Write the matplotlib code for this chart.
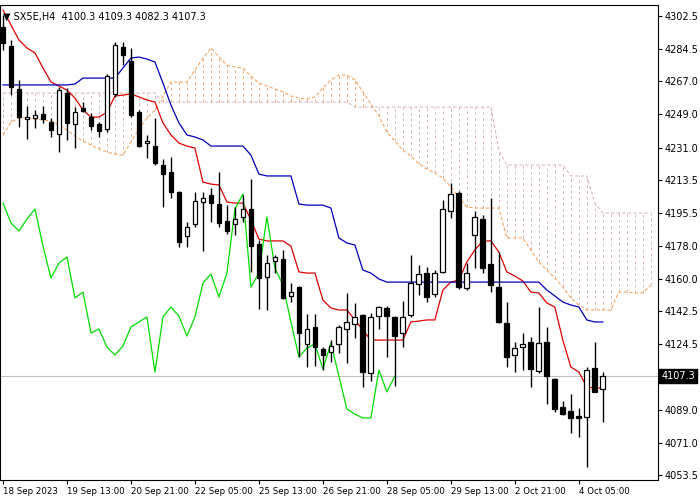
import matplotlib
matplotlib.use("Agg")
import matplotlib.pyplot as plt
import numpy as np

opens  = [4296.4,4286.1,4262.8,4246.5,4247.1,4249.2,4244.9,4238.4,4260.6,4243.8,
          4252.5,4247.6,4243.8,4241.1,4260.1,4285.5,4278.0,4250.3,4233.5,4231.9,
          4221.6,4217.8,4207.0,4183.2,4189.7,4201.6,4205.4,4200.5,4191.3,4189.7,
          4193.5,4197.8,4178.8,4160.9,4169.6,4170.7,4150.7,4155.5,4124.7,4133.9,
          4121.9,4120.3,4124.7,4132.8,4135.5,4140.4,4109.0,4139.8,4144.2,4139.3,
          4130.6,4140.4,4157.2,4163.1,4151.7,4163.7,4196.7,4206.5,4155.0,4183.7,
          4192.4,4168.0,4155.5,4136.0,4118.7,4123.0,4125.7,4110.0,4125.7,4105.7,
          4090.5,4088.4,4085.7,4085.1,4111.7,4100.3]
highs  = [4302.9,4289.3,4267.7,4253.6,4251.4,4253.6,4247.1,4263.9,4263.3,4253.0,
          4255.7,4249.8,4244.9,4270.9,4288.2,4288.2,4285.0,4251.4,4237.9,4247.1,
          4224.9,4226.0,4207.5,4190.7,4207.0,4207.0,4209.2,4217.8,4200.0,4198.9,
          4205.4,4214.0,4181.0,4172.9,4172.9,4175.6,4157.7,4156.0,4140.9,4140.9,
          4123.0,4126.8,4134.9,4152.3,4146.9,4140.9,4141.4,4145.2,4145.2,4139.8,
          4147.9,4172.9,4167.4,4166.4,4164.7,4202.7,4211.9,4207.5,4168.5,4196.7,
          4194.5,4203.7,4174.5,4147.4,4125.7,4130.6,4128.5,4144.7,4133.9,4106.0,
          4093.8,4097.6,4089.9,4112.2,4125.7,4109.3]
lows   = [4283.9,4259.5,4242.2,4235.7,4241.7,4244.4,4236.8,4228.7,4235.2,4230.8,
          4250.3,4240.6,4236.8,4239.5,4258.5,4275.8,4247.6,4231.4,4225.4,4221.6,
          4198.9,4203.7,4177.2,4177.2,4188.0,4175.0,4190.7,4188.0,4184.2,4183.7,
          4190.7,4163.7,4143.6,4143.1,4163.1,4149.0,4147.4,4117.6,4112.2,4112.7,
          4110.6,4114.9,4119.8,4114.4,4127.9,4101.4,4104.6,4132.8,4117.6,4101.9,
          4123.0,4139.3,4151.2,4147.4,4150.1,4163.1,4192.9,4154.5,4153.9,4165.8,
          4163.1,4152.8,4136.0,4112.2,4109.5,4110.6,4101.4,4109.0,4092.2,4087.8,
          4086.2,4076.4,4074.3,4058.0,4098.5,4082.3]
closes = [4287.7,4263.9,4247.6,4247.6,4248.7,4246.5,4240.6,4262.2,4244.4,4250.3,
          4250.9,4242.7,4240.0,4269.8,4286.6,4281.2,4248.7,4231.9,4234.6,4222.7,
          4216.7,4207.0,4179.9,4188.0,4202.1,4203.7,4201.0,4190.2,4185.9,4192.4,
          4197.8,4177.7,4160.4,4168.5,4171.8,4149.6,4152.8,4130.6,4132.8,4123.0,
          4118.7,4123.6,4133.9,4136.6,4139.3,4109.5,4139.3,4144.7,4139.8,4129.0,
          4139.3,4157.7,4162.6,4150.1,4163.1,4197.8,4205.9,4155.5,4163.1,4193.5,
          4165.8,4156.6,4136.6,4117.6,4122.5,4124.7,4111.1,4125.2,4107.3,4089.4,
          4086.7,4084.6,4084.6,4110.6,4098.7,4107.3]

tenkan = [4305.6,4297.5,4289.3,4285.0,4282.3,4274.2,4266.6,4264.4,4262.2,4257.9,
          4251.4,4247.6,4247.6,4250.3,4259.0,4259.5,4260.1,4258.5,4256.8,4255.7,
          4244.4,4237.9,4233.5,4231.9,4230.8,4212.4,4211.3,4210.8,4201.6,4201.0,
          4201.0,4191.8,4181.5,4180.5,4180.5,4180.5,4177.7,4163.7,4163.1,4163.1,
          4148.5,4144.2,4143.1,4143.1,4137.7,4132.2,4126.8,4126.8,4126.8,4126.8,
          4126.8,4136.6,4137.1,4137.7,4137.7,4153.9,4158.2,4159.3,4169.1,4175.6,
          4180.5,4180.5,4174.5,4163.7,4161.5,4158.8,4152.8,4152.3,4146.9,4144.7,
          4126.8,4112.2,4109.5,4101.4,4100.8,4100.8]
kijun = [4265.0]*9 + [4265.5,4268.7,4268.7,4268.7,4268.7,4268.7,4274.2,4279.6,4280.1,
         4279.0,4277.4,4266.0,4254.1,4244.4,4237.9,4236.8,4235.2,4231.9,4231.9,
         4231.9,4231.9,4231.9,4227.0,4216.7,4215.7,4215.7,4215.7,4215.7,4200.5,
         4199.9,4199.9,4199.9,4198.3,4182.1,4179.4,4178.3,4164.7,4163.1,4159.9] + \
        [4158.2]*20 + [4153.9,4150.7,4147.4,4145.8,4144.7,4137.7,4136.6,4136.6]

span_a = [4237.9,4244.9,4247.1,4247.1,4246.5,4246.0,4245.5,4243.3,4240.6,4237.3,
          4234.6,4232.5,4230.3,4228.7,4227.6,4227.0,4234.1,4241.1,4247.1,4251.4,
          4259.0,4266.6,4266.6,4266.6,4273.1,4279.6,4285.0,4280.1,4275.8,4274.7,
          4274.2,4269.8,4266.0,4264.4,4262.8,4261.2,4259.0,4257.9,4257.4,4258.5,
          4263.3,4267.7,4270.4,4270.4,4267.7,4261.2,4254.7,4248.2,4239.5,4234.6,
          4229.7,4226.5,4222.2,4219.5,4217.3,4214.6,4209.7,4204.3,4198.9,4198.3,
          4198.3,4198.3,4198.3,4182.1,4182.1,4182.1,4175.6,4169.1,4164.7,4160.4,
          4155.5,4149.6,4145.8,4143.1,4143.1,4143.1,4143.1,4152.8,4152.8,4152.3,
          4152.3,4156.6]
span_b = [4260.6]*20 + [4255.7]*24 + [4253.0]*18 + [4229.7] + [4221.6]*8 + \
         [4215.7]*3 + [4201.0] + [4195.6]*7

xlabels = ["18 Sep 2023","19 Sep 13:00","20 Sep 21:00","22 Sep 05:00","25 Sep 13:00",
           "26 Sep 21:00","28 Sep 05:00","29 Sep 13:00","2 Oct 21:00","4 Oct 05:00"]
yticks = [4302.5,4284.5,4267.0,4249.0,4231.0,4213.5,4195.5,4178.0,4160.0,4142.5,
          4124.5,4089.0,4071.0,4053.5]
last_price = 4107.3

fig = plt.figure(figsize=(7,5), dpi=100)
ax = fig.add_axes([0.0, 0.04, 0.94, 0.95])
ax.set_xlim(-0.375, 81.9)
ax.set_ylim(4051.0, 4308.3)

ci = np.arange(len(span_a))
sa = np.array(span_a); sb = np.array(span_b)
for i in ci:
    col = "#eeaa7a" if sa[i] >= sb[i] else "#d4b8b8"
    ax.vlines(i, min(sa[i], sb[i]), max(sa[i], sb[i]), colors=col,
              linestyles=(0,(3,3)), linewidth=0.7)
ax.plot(ci, sa, color="#f4a460", linestyle=(0,(3,2)), linewidth=0.8)
ax.plot(ci, sb, color="#d8b8c0", linestyle=(0,(3,2)), linewidth=0.8)

ax.axhline(last_price, color="#c0c0c0", linewidth=0.8)

n = len(closes)
idx = np.arange(n)
ax.plot(idx, tenkan, color="#dd0000", linewidth=0.9)
ax.plot(idx, kijun, color="#0000bb", linewidth=0.9)
ax.plot(idx[:n-26], closes[26:], color="#00dd00", linewidth=0.9)

w = 0.6
for i in range(n):
    o, h, l, c = opens[i], highs[i], lows[i], closes[i]
    ax.vlines(i, l, h, colors="black", linewidth=1)
    bot = min(o, c); ht = max(abs(c - o), 0.4)
    fc = "white" if c >= o else "black"
    ax.add_patch(plt.Rectangle((i - w/2, bot), w, ht, facecolor=fc,
                               edgecolor="black", linewidth=0.9, zorder=3))

ax.yaxis.tick_right()
ax.set_yticks(yticks)
ax.set_yticklabels([f"{v:.1f}" for v in yticks], fontsize=7)
ax.set_xticks(np.arange(0, 80, 8))
ax.set_xticklabels(xlabels, fontsize=6.2, ha="left")
for lab in ax.get_xticklabels():
    lab.set_x(lab.get_position()[0])
ax.tick_params(axis="both", length=3, width=0.8, pad=2)
for s in ax.spines.values():
    s.set_linewidth(0.8)

ax.text(1.005, (last_price - 4051.0) / (4308.3 - 4051.0), f"{last_price:.1f}",
        transform=ax.transAxes, fontsize=7, color="white", va="center", ha="left",
        bbox=dict(boxstyle="square,pad=0.2", facecolor="black", edgecolor="black"),
        zorder=10, clip_on=False)
ax.text(0.005, 0.985, "▼ SX5E,H4  4100.3 4109.3 4082.3 4107.3", transform=ax.transAxes,
        fontsize=7, va="top", ha="left")

fig.savefig("out.png", dpi=100)
